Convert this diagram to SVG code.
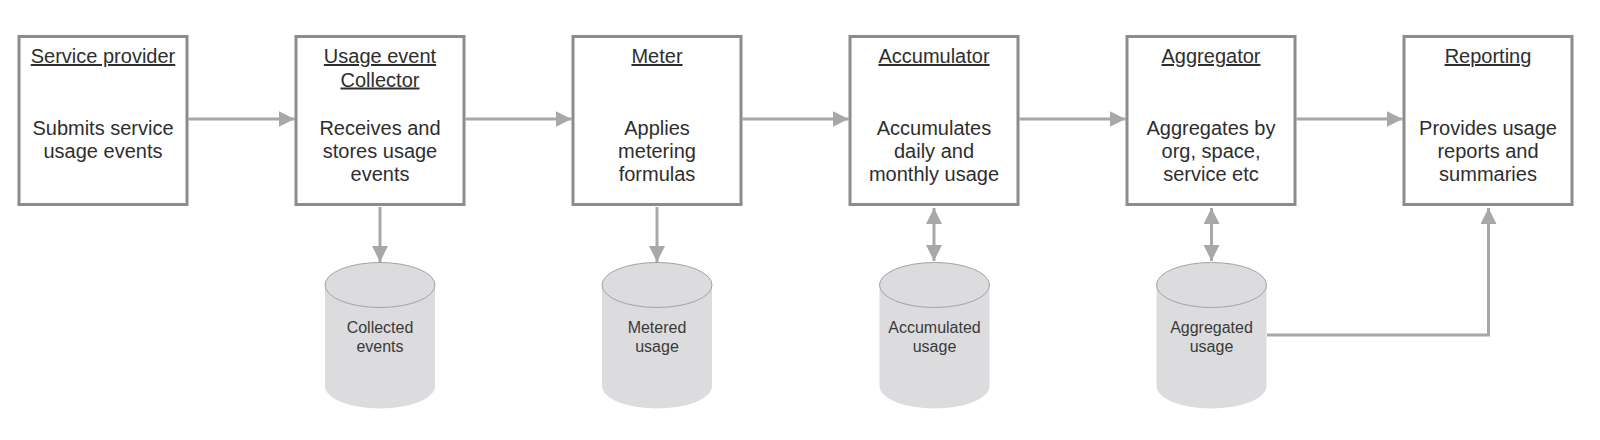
<svg xmlns="http://www.w3.org/2000/svg" width="1600" height="440" viewBox="0 0 1600 440">
<style>
.box{fill:#fff;stroke:#8c8c90;stroke-width:3}
.t{font-family:"Liberation Sans",Arial,sans-serif;font-size:20px;fill:#2e2e2e;text-anchor:middle}
.u{text-decoration:underline}
.c{font-family:"Liberation Sans",Arial,sans-serif;font-size:16px;fill:#3a3a3a;text-anchor:middle}
.cyl{fill:#dcdcde}
.top{fill:#dcdcde;stroke:#a3a3a6;stroke-width:1}
.ar{fill:none;stroke:#a8a8a8;stroke-width:3}
</style>
<defs>
<marker id="ah" viewBox="0 0 16 16" refX="16" refY="8" markerWidth="16" markerHeight="16" markerUnits="userSpaceOnUse" orient="auto-start-reverse">
<path d="M0,0 L16,8 L0,16 z" fill="#a8a8a8"/>
</marker>
</defs>
<g id="connectors">
<path class="ar" d="M188.5,119 H294.5" marker-end="url(#ah)"/>
<path class="ar" d="M465.5,119 H571.5" marker-end="url(#ah)"/>
<path class="ar" d="M742.5,119 H848.5" marker-end="url(#ah)"/>
<path class="ar" d="M1019.5,119 H1125.5" marker-end="url(#ah)"/>
<path class="ar" d="M1296.5,119 H1402.5" marker-end="url(#ah)"/>
<path class="ar" d="M380,207 V262" marker-end="url(#ah)"/>
<path class="ar" d="M657,207 V262" marker-end="url(#ah)"/>
<path class="ar" d="M934,208 V261" marker-start="url(#ah)" marker-end="url(#ah)"/>
<path class="ar" d="M1211.5,208 V261" marker-start="url(#ah)" marker-end="url(#ah)"/>
<path class="ar" d="M1267,335 H1488.5 V208" marker-end="url(#ah)"/>
</g>
<g id="service-provider">
<rect class="box" x="19" y="36.5" width="168" height="168"/>
<text class="t u" x="103" y="63">Service provider</text>
<text class="t" x="103" y="134.5">Submits service</text>
<text class="t" x="103" y="157.5">usage events</text>
</g>
<g id="collector">
<rect class="box" x="296" y="36.5" width="168" height="168"/>
<text class="t u" x="380" y="63">Usage event</text>
<text class="t u" x="380" y="86.5">Collector</text>
<text class="t" x="380" y="134.5">Receives and</text>
<text class="t" x="380" y="157.5">stores usage</text>
<text class="t" x="380" y="180.5">events</text>
</g>
<g id="meter">
<rect class="box" x="573" y="36.5" width="168" height="168"/>
<text class="t u" x="657" y="63">Meter</text>
<text class="t" x="657" y="134.5">Applies</text>
<text class="t" x="657" y="157.5">metering</text>
<text class="t" x="657" y="180.5">formulas</text>
</g>
<g id="accumulator">
<rect class="box" x="850" y="36.5" width="168" height="168"/>
<text class="t u" x="934" y="63">Accumulator</text>
<text class="t" x="934" y="134.5">Accumulates</text>
<text class="t" x="934" y="157.5">daily and</text>
<text class="t" x="934" y="180.5">monthly usage</text>
</g>
<g id="aggregator">
<rect class="box" x="1127" y="36.5" width="168" height="168"/>
<text class="t u" x="1211" y="63">Aggregator</text>
<text class="t" x="1211" y="134.5">Aggregates by</text>
<text class="t" x="1211" y="157.5">org, space,</text>
<text class="t" x="1211" y="180.5">service etc</text>
</g>
<g id="reporting">
<rect class="box" x="1404" y="36.5" width="168" height="168"/>
<text class="t u" x="1488" y="63">Reporting</text>
<text class="t" x="1488" y="134.5">Provides usage</text>
<text class="t" x="1488" y="157.5">reports and</text>
<text class="t" x="1488" y="180.5">summaries</text>
</g>
<g id="collected-events">
<path class="cyl" d="M325,285 V386 A55,22.5 0 0 0 435,386 V285 Z"/>
<ellipse class="top" cx="380" cy="285" rx="55" ry="22.5"/>
<text class="c" x="380" y="333">Collected</text>
<text class="c" x="380" y="352">events</text>
</g>
<g id="metered-usage">
<path class="cyl" d="M602,285 V386 A55,22.5 0 0 0 712,386 V285 Z"/>
<ellipse class="top" cx="657" cy="285" rx="55" ry="22.5"/>
<text class="c" x="657" y="333">Metered</text>
<text class="c" x="657" y="352">usage</text>
</g>
<g id="accumulated-usage">
<path class="cyl" d="M879.5,285 V386 A55,22.5 0 0 0 989.5,386 V285 Z"/>
<ellipse class="top" cx="934.5" cy="285" rx="55" ry="22.5"/>
<text class="c" x="934.5" y="333">Accumulated</text>
<text class="c" x="934.5" y="352">usage</text>
</g>
<g id="aggregated-usage">
<path class="cyl" d="M1156.5,285 V386 A55,22.5 0 0 0 1266.5,386 V285 Z"/>
<ellipse class="top" cx="1211.5" cy="285" rx="55" ry="22.5"/>
<text class="c" x="1211.5" y="333">Aggregated</text>
<text class="c" x="1211.5" y="352">usage</text>
</g>
</svg>
